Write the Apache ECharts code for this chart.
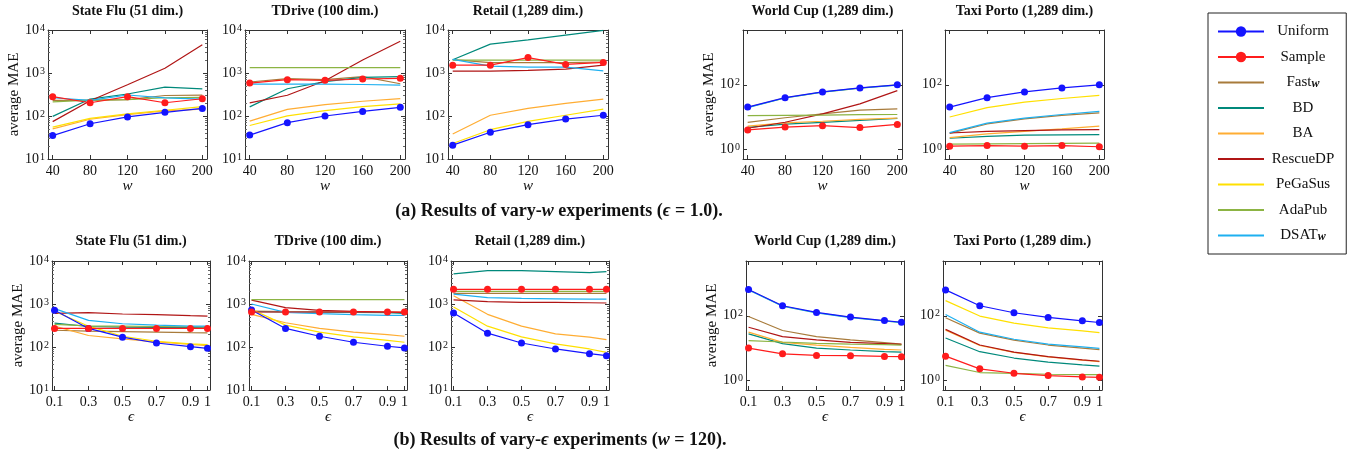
<!DOCTYPE html>
<html><head><meta charset="utf-8">
<script src="https://cdn.jsdelivr.net/npm/echarts@6/dist/echarts.min.js"></script>
<style>html,body{margin:0;padding:0;background:#fff}#c{width:1356px;height:457px}</style>
</head><body><div id="c"></div>
<script>
// ---------- data ----------
const seriesNames = ['Uniform','Sample','Fast_w','BD','BA','RescueDP','PeGaSus','AdaPub','DSAT_w'];
const wValues = [40, 80, 120, 160, 200];
const epsValues = [0.1, 0.3, 0.5, 0.7, 0.9, 1];
const wTickLabels = ['40','80','120','160','200'];
const epsTickLabels = ['0.1','0.3','0.5','0.7','0.9','1'];
const panelTitles = ['State Flu (51 dim.)','TDrive (100 dim.)','Retail (1,289 dim.)','World Cup (1,289 dim.)','Taxi Porto (1,289 dim.)'];

// rows follow seriesNames order
const stateFluW = [
  [35,66,95,122,150],
  [282,203,282,203,252],
  [230,232,240,300,305],
  [98,248,325,470,427],
  [50,84,108,131,144],
  [74,226,532,1290,4520],
  [55,88,112,136,166],
  [214,235,240,266,270],
  [266,231,308,263,248]
];
const tdriveW = [
  [36,70,100,128,159],
  [582,700,674,725,750],
  [617,740,700,822,563],
  [163,430,630,795,822],
  [76,143,184,220,254],
  [202,304,662,2000,5500],
  [60,101,133,165,191],
  [1340,1340,1340,1340,1340],
  [552,552,552,540,524]
];
const retailW = [
  [21,42,63,85,104],
  [1520,1520,2280,1580,1760],
  [2040,1740,1740,1740,1800],
  [2040,4680,5900,7600,9800],
  [38,104,150,196,248],
  [1100,1100,1150,1230,1520],
  [23,48,75,104,144],
  [1990,1990,1990,1990,1990],
  [2080,1440,1365,1365,1120]
];
const worldCupW = [
  [20.4,40,60,80,100],
  [4.0,4.9,5.4,4.7,5.9],
  [6.8,9.5,12.6,16.3,18],
  [4.8,6.0,6.8,7.9,9.1],
  [5.2,6.6,7.4,8.5,9.3],
  [4.5,6.9,12.6,25.7,66],
  [20,39.5,59,79,99],
  [11,11.2,11.5,11.8,12],
  [19.5,39,59,79,98]
];
const taxiPortoW = [
  [20.4,40,60,80,100],
  [1.25,1.3,1.25,1.3,1.2],
  [3.1,6.1,8.8,11.2,13.5],
  [2.2,2.5,2.75,2.8,2.85],
  [2.3,3.0,3.6,4.3,5.2],
  [3.2,3.6,3.8,4.0,4.1],
  [10,19.5,29,37.6,46.7],
  [1.45,1.48,1.5,1.52,1.55],
  [3.3,6.5,9.2,12,15]
];
const stateFluEps = [
  [713,270,169,124,102,93],
  [270,270,270,270,270,270],
  [245,234,228,222,215,213],
  [360,300,290,285,282,280],
  [305,185,155,131,115,107],
  [606,630,585,565,535,525],
  [680,305,178,136,118,113],
  [335,310,305,300,296,295],
  [780,415,347,323,305,305]
];
const tdriveEps = [
  [725,270,178,129,104,95],
  [652,652,652,652,652,652],
  [688,662,655,650,648,640],
  [662,650,645,640,630,606],
  [575,366,270,221,195,178],
  [1230,825,713,676,652,630],
  [753,323,221,172,143,129],
  [1270,1270,1270,1270,1270,1270],
  [1000,640,596,565,545,545]
];
const retailEps = [
  [617,210,124,90,70,63],
  [2190,2190,2190,2190,2190,2190],
  [1760,1760,1760,1760,1760,1760],
  [5000,6000,6000,5680,5370,5680],
  [1550,575,305,202,169,148],
  [1250,1130,1090,1090,1070,1055],
  [855,305,172,118,90,75],
  [1960,1960,1960,1960,1960,1960],
  [1690,1410,1345,1320,1300,1300]
];
const worldCupEps = [
  [650,205,127,91,71,63],
  [10,6.6,5.9,5.8,5.5,5.4],
  [95,35,22.6,17.8,14.7,13.3],
  [27.5,13.7,10,8.7,7.7,7.5],
  [31,15,12.4,10.5,9.1,8.7],
  [44,22.6,17.8,15,13.7,13],
  [640,200,124,89,70,62],
  [17,15.4,14,13.3,12.7,12.4],
  [630,198,123,88,69,61]
];
const taxiPortoEps = [
  [635,205,124,89,70,62],
  [5.6,2.26,1.65,1.4,1.27,1.24],
  [87,29,17.5,12.4,10,8.9],
  [20.5,7.7,4.9,3.65,3.0,2.75],
  [36,12,7.3,5.3,4.2,3.8],
  [38,12.4,7.5,5.4,4.3,3.9],
  [295,98,59,42,34,30],
  [2.9,1.74,1.65,1.54,1.5,1.5],
  [110,31,18.7,13.3,10.8,9.7]
];

// ---------- styling / layout ----------
const colors = ['#1414ff','#ff1c1c','#a87b3b','#00897b','#ffad33','#b01515','#ffe000','#8cb443','#1eb0f0'];
const FONT = 'Liberation Serif';
const INK = '#111';
const AX = '#333';

const rowData = [
  [stateFluW, tdriveW, retailW, worldCupW, taxiPortoW],
  [stateFluEps, tdriveEps, retailEps, worldCupEps, taxiPortoEps]
];
const boxes = [
  [[48,30,159,129],[245,30,160,129],[448,30,160,129],[743,30,159,129],[945,30,159,129]],
  [[52,261,158,129],[249,261,158,129],[451,261,158,129],[746,261,158,129],[943,261,159,129]]
];
const titleTops = [4, 234];
const hasYName = [true,false,false,true,false];

function powLabel(v) {
  const e = Math.log10(v);
  if (Math.abs(e - Math.round(e)) > 1e-6) return '';
  return '{b|10}{s|' + Math.round(e) + '}';
}
const powRich = {
  b: {fontFamily: FONT, fontSize: 14, color: INK},
  s: {fontFamily: FONT, fontSize: 10, color: INK, verticalAlign: 'top', padding: [0,0,0,1]}
};

const grids = [], xAxes = [], yAxes = [], series = [], titles = [];
let gi = 0;
for (let r = 0; r < 2; r++) {
  for (let p = 0; p < 5; p++) {
    const [L, T, W, H] = boxes[r][p];
    grids.push({left: L, top: T, width: W, height: H, containLabel: false});
    const xs = r === 0 ? wValues : epsValues;
    const xMin = r === 0 ? 35 : 0.085, xMax = r === 0 ? 205 : 1.015;
    const xName = r === 0 ? 'w' : 'ϵ';
    const baseX = {
      type: 'value', gridIndex: gi, min: xMin, max: xMax,
      splitLine: {show: false},
      axisLine: {show: true, onZero: false, lineStyle: {color: AX, width: 1}},
      axisTick: {show: true, inside: true, length: 4, customValues: xs, lineStyle: {color: AX}}
    };
    xAxes.push(Object.assign({}, baseX, {
      position: 'bottom',
      axisLabel: {show: true, customValues: xs, margin: 5, fontFamily: FONT, fontSize: 14, color: INK,
        formatter: v => (r === 0 ? wTickLabels[wValues.indexOf(v)] : epsTickLabels[epsValues.indexOf(v)]) || String(v)},
      name: xName, nameLocation: 'middle', nameGap: 19,
      nameTextStyle: {fontFamily: FONT, fontSize: 15, fontStyle: 'italic', color: INK}
    }));
    xAxes.push(Object.assign({}, baseX, {position: 'top', axisLabel: {show: false}}));

    const decade = p < 3;
    const baseY = {
      type: 'log', gridIndex: gi,
      logBase: decade ? 10 : 100,
      min: decade ? 10 : 0.5, max: decade ? 10000 : 5000,
      splitLine: {show: false},
      axisLine: {show: true, lineStyle: {color: AX, width: 1}},
      axisTick: {show: true, inside: true, length: 4, lineStyle: {color: AX}},
      minorTick: {show: decade, splitNumber: 9, length: 2, lineStyle: {color: '#666'}}
    };
    yAxes.push(Object.assign({}, baseY, {
      position: 'left',
      axisLabel: {show: true, margin: 3, formatter: powLabel, rich: powRich, fontFamily: FONT, fontSize: 14, color: INK},
      name: hasYName[p] ? 'average MAE' : '', nameLocation: 'middle', nameGap: 26,
      nameTextStyle: {fontFamily: FONT, fontSize: 15, color: INK}
    }));
    yAxes.push(Object.assign({}, baseY, {position: 'right', axisLabel: {show: false}}));

    const data = rowData[r][p];
    for (let s = 0; s < seriesNames.length; s++) {
      const marker = s < 2;
      series.push({
        name: seriesNames[s], type: 'line',
        xAxisIndex: 2 * gi, yAxisIndex: 2 * gi,
        data: xs.map((x, k) => [x, data[s][k]]),
        symbol: marker ? 'circle' : 'none', symbolSize: 7, showAllSymbol: true,
        lineStyle: {color: colors[s], width: 1.2},
        itemStyle: {color: colors[s]},
        z: marker ? 4 : 2,
        silent: true, animation: false,
        emphasis: {disabled: true}
      });
    }
    titles.push({
      text: panelTitles[p], left: L + W / 2, top: titleTops[r], textAlign: 'center', padding: 0,
      textStyle: {fontFamily: FONT, fontSize: 14, fontWeight: 'bold', color: INK}
    });
    gi++;
  }
}

const capRich = {
  b: {fontFamily: FONT, fontSize: 18, fontWeight: 'bold', color: INK},
  i: {fontFamily: FONT, fontSize: 18, fontStyle: 'italic', color: INK},
  n: {fontFamily: FONT, fontSize: 18, color: INK}
};
titles.push({
  text: '{b|(a) Results of vary-}{i|w}{b| experiments (}{i|ϵ}{n| = 1.0)}{b|.}',
  left: 559, top: 202, textAlign: 'center', padding: 0, textStyle: {rich: capRich}
});
titles.push({
  text: '{b|(b) Results of vary-}{i|ϵ}{b| experiments (}{i|w}{n| = 120)}{b|.}',
  left: 560, top: 431, textAlign: 'center', padding: 0, textStyle: {rich: capRich}
});

const legendRich = {
  t: {fontFamily: FONT, fontSize: 15, color: INK, align: 'center'},
  w: {fontFamily: FONT, fontSize: 12, fontStyle: 'italic', fontWeight: 'bold', color: INK, align: 'center', verticalAlign: 'bottom'}
};
const legendData = seriesNames.map((n, s) => s < 2 ? {name: n} : {name: n, icon: 'path://M0,0L46,0L46,2L0,2Z'});

const option = {
  backgroundColor: '#fff',
  animation: false,
  title: titles,
  grid: grids,
  xAxis: xAxes,
  yAxis: yAxes,
  series: series,
  legend: {
    data: legendData, orient: 'vertical', left: 1208, top: 13,
    itemWidth: 46, itemHeight: 13, itemGap: 10.5,
    padding: [11, 12, 11, 9],
    borderColor: '#222', borderWidth: 1, backgroundColor: '#fff',
    selectedMode: false,
    lineStyle: {width: 2},
    formatter: n => n === 'Fast_w' ? '{t|Fast}{w|w}' : n === 'DSAT_w' ? '{t|DSAT}{w|w}' : '{t|' + n + '}',
    textStyle: {width: 68, fontFamily: FONT, fontSize: 15, color: INK, rich: legendRich}
  }
};
const chart = echarts.init(document.getElementById('c'), null, {renderer: 'canvas'});
chart.setOption(option);
</script>
</body></html>
